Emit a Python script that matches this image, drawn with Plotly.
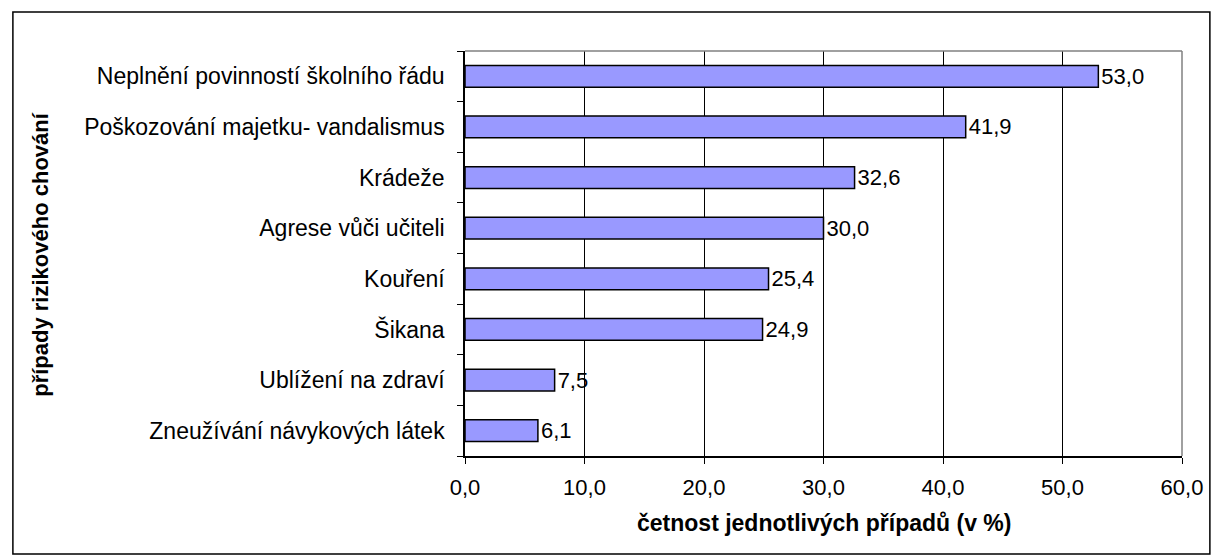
import plotly.graph_objects as go

categories = [
    "Neplnění povinností školního řádu",
    "Poškozování majetku- vandalismus",
    "Krádeže",
    "Agrese vůči učiteli",
    "Kouření",
    "Šikana",
    "Ublížení na zdraví",
    "Zneužívání návykových látek",
]
values = [53.0, 41.9, 32.6, 30.0, 25.4, 24.9, 7.5, 6.1]
x_ticks = [0, 10, 20, 30, 40, 50, 60]

W, H = 1215, 556
L, R, T, B = 465, 30, 51, 100
pw, ph = W - L - R, H - T - B

def px(x):
    return (x - L) / pw

def py(y):
    return (H - B - y) / ph

font = "Liberation Sans, Arial, sans-serif"
FS = 22

fig = go.Figure(go.Bar(
    y=categories[::-1],
    x=values[::-1],
    orientation="h",
    marker=dict(color="#9999FF", line=dict(color="black", width=1.5)),
    text=[f"{v:.1f}".replace(".", ",") for v in values[::-1]],
    textposition="outside",
    constraintext="none",
    textfont=dict(size=FS, color="black", family=font),
    cliponaxis=False,
    width=0.43,
))

fig.update_layout(
    width=W, height=H,
    margin=dict(l=L, r=R, t=T, b=B),
    paper_bgcolor="white",
    plot_bgcolor="white",
    separators=", ",
    showlegend=False,
    font=dict(family=font, size=FS, color="black"),
    xaxis=dict(
        range=[0, 60],
        tickvals=x_ticks,
        tickformat=".1f",
        showgrid=True, gridcolor="black", gridwidth=1,
        showline=True, linecolor="black", linewidth=1.5,
        ticks="outside", ticklen=6, tickcolor="black",
        tickfont=dict(size=FS),
        ticklabelstandoff=5,
        zeroline=False,
    ),
    yaxis=dict(
        showline=True, linecolor="black", linewidth=1.5,
        ticks="outside", ticklen=6, tickcolor="black",
        tickson="boundaries",
        tickfont=dict(size=23),
        showgrid=False,
        ticklabelstandoff=14,
    ),
    shapes=[
        dict(type="rect", xref="paper", yref="paper",
             x0=px(11), x1=px(1213), y0=py(554), y1=py(12),
             line=dict(color="black", width=1.5), fillcolor="rgba(0,0,0,0)", layer="below"),
        dict(type="line", xref="paper", yref="paper", x0=0, x1=1, y0=1, y1=1,
             line=dict(color="#808080", width=1.5)),
        dict(type="line", xref="paper", yref="paper", x0=1, x1=1, y0=0, y1=1,
             line=dict(color="#808080", width=1.5)),
    ],
    annotations=[
        dict(text="<b>případy rizikového chování</b>", xref="paper", yref="paper",
             x=px(38), y=py(254), textangle=-90, showarrow=False,
             font=dict(size=FS), xanchor="center", yanchor="middle"),
        dict(text="<b>četnost jednotlivých případů (v %)</b>", xref="paper", yref="paper",
             x=px(825), y=py(523), showarrow=False,
             font=dict(size=23), xanchor="center", yanchor="middle"),
    ],
)

fig.write_html("out.html", config={"displayModeBar": False},
               post_script="document.body.style.margin='0px';")
